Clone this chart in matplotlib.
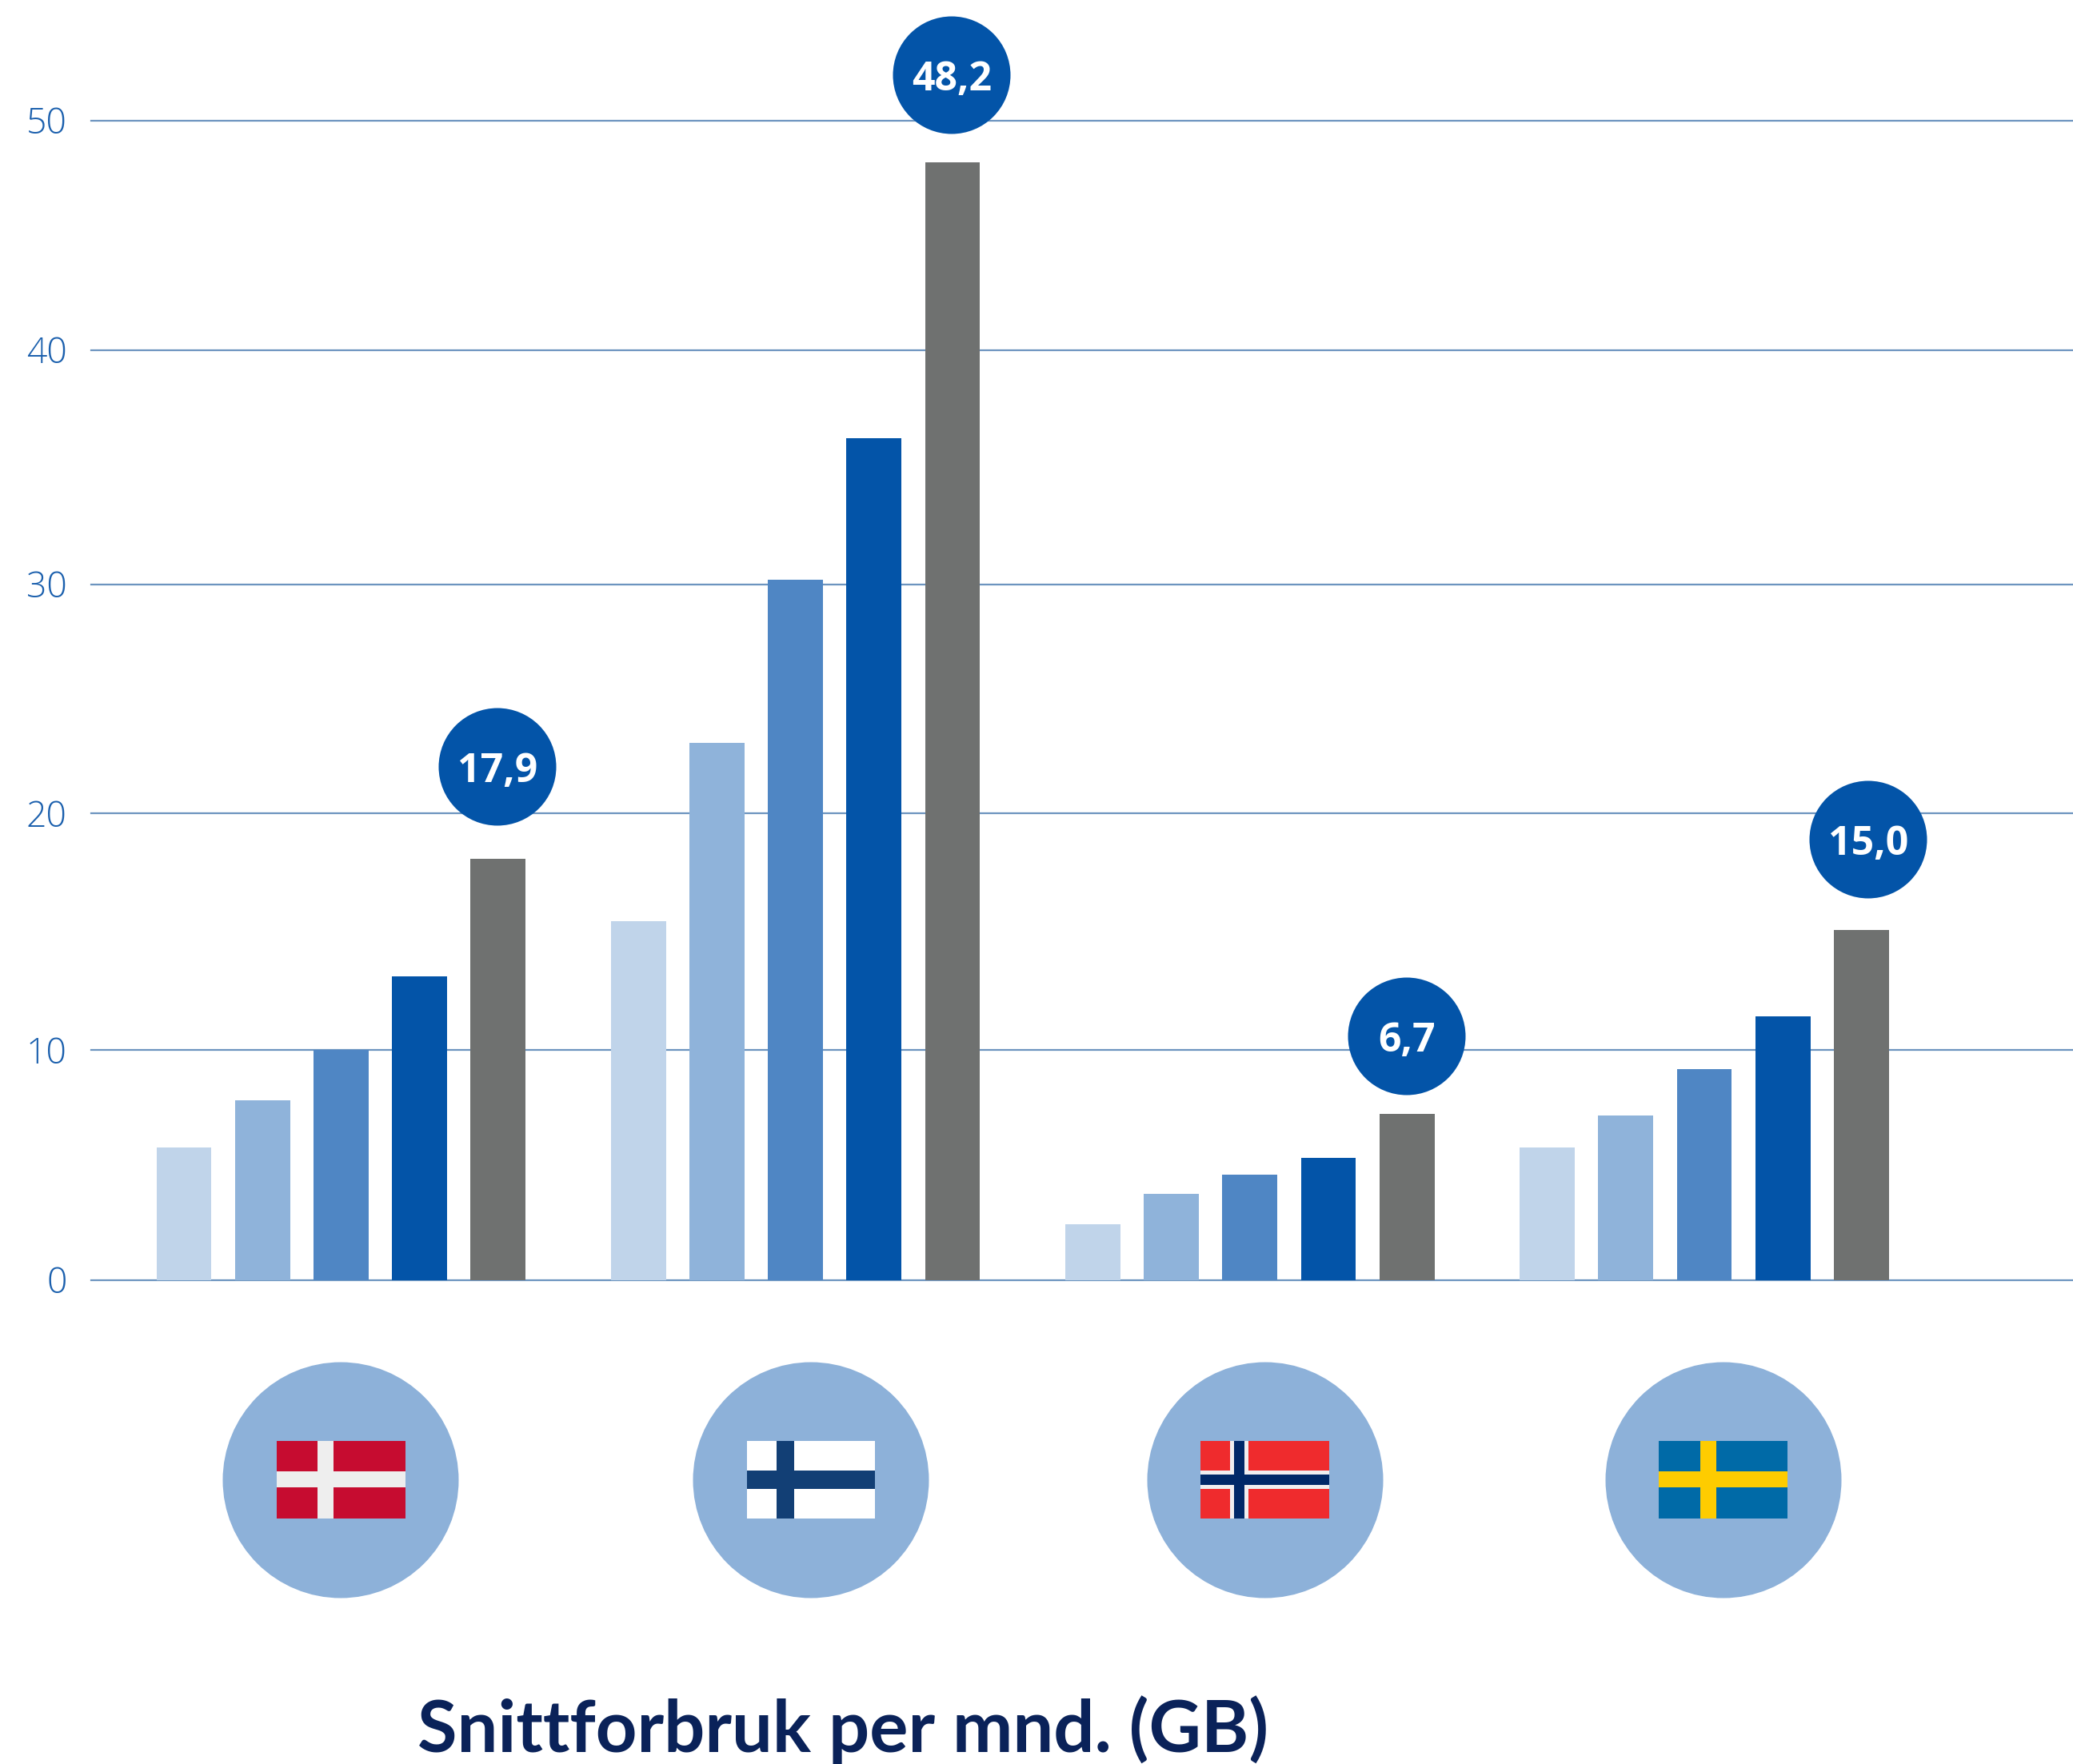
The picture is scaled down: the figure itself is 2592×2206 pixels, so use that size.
import matplotlib
matplotlib.use("Agg")
import matplotlib.pyplot as plt
from matplotlib.patches import Circle, Rectangle

# verdier lest av figuren
countries = ["Danmark", "Finland", "Norge", "Sverige"]
serie_1 = [5.7, 15.45, 2.4, 5.7]
serie_2 = [7.75, 23.15, 3.7, 7.1]
serie_3 = [9.9, 30.2, 4.55, 9.1]
serie_4 = [13.1, 36.3, 5.25, 11.35]
serie_5 = [18.15, 48.2, 7.15, 15.1]
badge_labels = ["17,9", "48,2", "6,7", "15,0"]
# gridlinjene i originalen er ikke helt jevnt fordelt
y_ticks = [0, 9.9, 20.12, 30, 40.1, 50]
y_labels = ["0", "10", "20", "30", "40", "50"]

bar_colors = ["#c0d4ea", "#8fb3da", "#4f86c4", "#0354a8", "#6f7170"]
tick_color = "#1a5fad"
grid_color = "#6c94bf"
badge_color = "#0354a8"
flag_bg = "#8db1d9"
title_color = "#0a2259"

W, H = 2592, 2206
fig = plt.figure(figsize=(W / 100, H / 100), dpi=100, facecolor="white")

# hovedaksen, plassert i piksler
left, right, top, bottom = 114, 2592, 150.5, 1600.5
ax = fig.add_axes([left / W, 1 - bottom / H, (right - left) / W, (bottom - top) / H])
ax.set_ylim(0, 50)
bar_pitch = 98.2
group_pitch = 568.2 / bar_pitch
first_center = 230
ax.set_xlim((left - first_center) / bar_pitch, (right - first_center) / bar_pitch)

series = [serie_1, serie_2, serie_3, serie_4, serie_5]
for j, (vals, col) in enumerate(zip(series, bar_colors)):
    xs = [i * group_pitch + j for i in range(len(countries))]
    ax.bar(xs, vals, width=0.70, color=col, zorder=3)

for s in ax.spines.values():
    s.set_visible(False)
ax.set_xticks([])
ax.set_yticks(y_ticks, y_labels)
ax.tick_params(axis="y", length=0, pad=22, labelsize=32, labelcolor=tick_color)
for lab in ax.get_yticklabels():
    lab.set_family("Open Sans")
    lab.set_fontweight("light")
ax.yaxis.grid(True, color=grid_color, linewidth=1.6, zorder=1, clip_on=False)
ax.set_axisbelow(True)

# overlegg i pikselkoordinater for sirkler, flagg og tittel
ov = fig.add_axes([0, 0, 1, 1], facecolor="none")
ov.set_xlim(0, W)
ov.set_ylim(H, 0)
ov.axis("off")


def rect(x0, x1, y0, y1, color):
    ov.add_patch(Rectangle((x0, y0), x1 - x0, y1 - y0, facecolor=color, edgecolor="none"))


# verdisirkler
badge_pos = [(622, 959), (1190, 94), (1759, 1296), (2336, 1050)]
for (cx, cy), txt in zip(badge_pos, badge_labels):
    ov.add_patch(Circle((cx, cy), 73.5, facecolor=badge_color, edgecolor="none"))
    ov.text(cx, cy, txt, color="white", fontsize=36, fontweight="bold",
            family="Open Sans", ha="center", va="center_baseline")

# flagg
flag_y0, flag_y1 = 1802, 1899
flag_cy = 1851
for cx in [426, 1014, 1582, 2155]:
    ov.add_patch(Circle((cx, flag_cy), 147.5, facecolor=flag_bg, edgecolor="none"))

# Danmark
rect(346, 507, flag_y0, flag_y1, "#c60c30")
rect(397, 417, flag_y0, flag_y1, "#eeeeee")
rect(346, 507, 1840, 1860, "#eeeeee")
# Finland
rect(934, 1094, flag_y0, flag_y1, "#ffffff")
rect(971, 993, flag_y0, flag_y1, "#123f75")
rect(934, 1094, 1839, 1862, "#123f75")
# Norge
rect(1501, 1662, flag_y0, flag_y1, "#ef2b2d")
rect(1538, 1561, flag_y0, flag_y1, "#f0eef0")
rect(1501, 1662, 1839, 1862, "#f0eef0")
rect(1543, 1556, flag_y0, flag_y1, "#002868")
rect(1501, 1662, 1844, 1857, "#002868")
# Sverige
rect(2074, 2235, flag_y0, flag_y1, "#006aa7")
rect(2126, 2146, flag_y0, flag_y1, "#fecc00")
rect(2074, 2235, 1840, 1860, "#fecc00")

ov.text(1054, 2191, "Snittforbruk per mnd. (GB)", color=title_color, fontsize=65,
        fontweight="bold", family="Lato", ha="center", va="baseline")

fig.savefig("out.png", dpi=100)
